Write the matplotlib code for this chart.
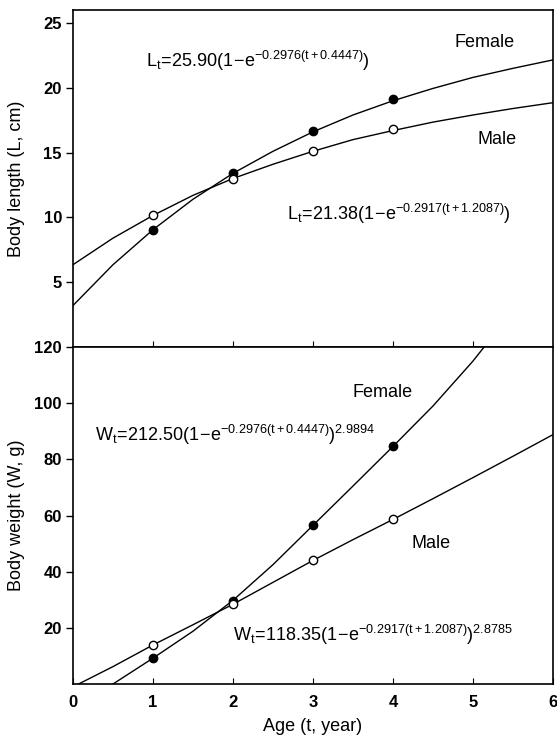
import matplotlib
matplotlib.use("Agg")
import matplotlib.pyplot as plt

plt.rcParams['font.family'] = ['Liberation Sans', 'DejaVu Sans']
plt.rcParams['mathtext.fontset'] = 'custom'
plt.rcParams['mathtext.rm'] = 'Liberation Sans'
plt.rcParams['mathtext.it'] = 'Liberation Sans'
plt.rcParams['mathtext.bf'] = 'Liberation Sans:bold'

# observed mean size at age
age = [1, 2, 3, 4]
female_len = [9.0, 13.45, 16.65, 19.1]
male_len = [10.15, 12.95, 15.15, 16.8]
female_wt = [9.2, 29.6, 56.6, 84.7]
male_wt = [13.9, 28.4, 44.1, 58.6]

# fitted growth curves
len_t = [0, 0.5, 1, 1.5, 2, 2.5, 3, 3.5, 4, 4.5, 5, 5.5, 6]
female_len_fit = [3.2, 6.35, 9.05, 11.4, 13.4, 15.1, 16.6, 17.9, 19.0, 19.95, 20.8, 21.5, 22.15]
male_len_fit = [6.35, 8.4, 10.15, 11.7, 13.0, 14.1, 15.1, 16.0, 16.7, 17.35, 17.9, 18.4, 18.85]

female_wt_t = [0.5, 1, 1.5, 2, 2.5, 3, 3.5, 4, 4.5, 5, 5.25]
female_wt_fit = [0, 9.2, 18.8, 29.8, 42.5, 56.5, 70.5, 84.6, 99.0, 115.0, 124.0]
male_wt_t = [0.07, 0.5, 1, 1.5, 2, 2.5, 3, 3.5, 4, 4.5, 5, 5.5, 6]
male_wt_fit = [0, 6.2, 13.9, 21.1, 28.4, 36.2, 44.0, 51.4, 58.6, 66.0, 73.5, 81.1, 88.8]

eq_fl = r'$\mathregular{L_t\!=\!25.90(1\!-\!e^{-0.2976(t+0.4447)})}$'
eq_ml = r'$\mathregular{L_t\!=\!21.38(1\!-\!e^{-0.2917(t+1.2087)})}$'
eq_fw = r'$\mathregular{W_t\!=\!212.50(1\!-\!e^{-0.2976(t+0.4447)})^{2.9894}}$'
eq_mw = r'$\mathregular{W_t\!=\!118.35(1\!-\!e^{-0.2917(t+1.2087)})^{2.8785}}$'

W, H = 557, 742
fig = plt.figure(figsize=(W / 100, H / 100), dpi=100)
ax1 = fig.add_axes([73 / W, 1 - 347 / H, 480 / W, 337 / H])
ax2 = fig.add_axes([73 / W, 1 - 684 / H, 480 / W, 337 / H])

line_kw = dict(color='black', lw=1.0)
full_kw = dict(ls='none', marker='o', ms=6, mfc='black', mec='black', mew=1.0)
open_kw = dict(ls='none', marker='o', ms=6, mfc='white', mec='black', mew=1.0)

# length panel
ax1.plot(len_t, female_len_fit, **line_kw)
ax1.plot(len_t, male_len_fit, **line_kw)
ax1.plot(age, female_len, **full_kw)
ax1.plot(age, male_len, **open_kw)
ax1.set_xlim(0, 6)
ax1.set_ylim(0, 26)
ax1.set_yticks([5, 10, 15, 20, 25])
ax1.set_xticks([1, 2, 3, 4, 5])
ax1.tick_params(axis='x', direction='in', length=4, labelbottom=False)
ax1.set_ylabel('Body length (L, cm)', fontsize=13)
ax1.text(5.15, 23.5, 'Female', fontsize=13, ha='center', va='center')
ax1.text(5.3, 16.0, 'Male', fontsize=13, ha='center', va='center')
ax1.text(0.91, 22.1, eq_fl, fontsize=13, ha='left', va='center')
ax1.text(2.68, 10.3, eq_ml, fontsize=13, ha='left', va='center')

# weight panel
ax2.plot(female_wt_t, female_wt_fit, **line_kw)
ax2.plot(male_wt_t, male_wt_fit, **line_kw)
ax2.plot(age, female_wt, **full_kw)
ax2.plot(age, male_wt, **open_kw)
ax2.set_xlim(0, 6)
ax2.set_ylim(0, 120)
ax2.set_yticks([20, 40, 60, 80, 100, 120])
ax2.set_xticks([0, 1, 2, 3, 4, 5, 6])
ax2.tick_params(axis='x', direction='in', length=4, pad=8)
ax2.set_xlabel('Age (t, year)', fontsize=13, labelpad=6)
ax2.set_ylabel('Body weight (W, g)', fontsize=13)
ax2.text(3.87, 103.7, 'Female', fontsize=13, ha='center', va='center')
ax2.text(4.47, 49.9, 'Male', fontsize=13, ha='center', va='center')
ax2.text(0.28, 88.7, eq_fw, fontsize=13, ha='left', va='center')
ax2.text(2.0, 17.5, eq_mw, fontsize=13, ha='left', va='center')

for ax in (ax1, ax2):
    ax.tick_params(axis='y', direction='out', length=5, width=1.0, pad=3)
    ax.tick_params(labelsize=12)
    for lbl in ax.get_xticklabels() + ax.get_yticklabels():
        lbl.set_fontweight('bold')
    for sp in ax.spines.values():
        sp.set_linewidth(1.2)
    ax.yaxis.set_label_coords(-0.10, 0.5)

fig.savefig('out.png', dpi=100)
